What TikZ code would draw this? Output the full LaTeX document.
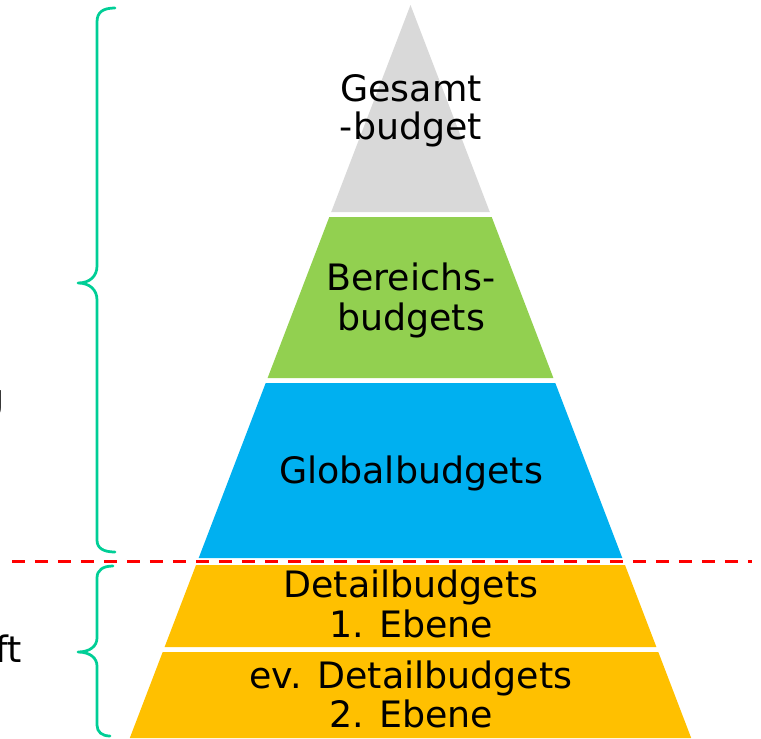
\documentclass[tikz,border=0pt]{standalone}
\usepackage{fontspec}
\setmainfont{DejaVu Sans}
\definecolor{pgray}{HTML}{D9D9D9}
\definecolor{pgreen}{HTML}{92D050}
\definecolor{pblue}{HTML}{00B0F0}
\definecolor{porange}{HTML}{FFC000}
\definecolor{bracegreen}{RGB}{0,206,150}
\begin{document}
\begin{tikzpicture}[x=0.02cm,y=-0.02cm,
  lbl/.style={anchor=base,inner sep=0pt,font=\fontsize{20.7}{22.7}\selectfont,text=black},
  brace/.style={draw=bracegreen,line width=0.055cm,line cap=round,line join=round},
  band/.style={draw=none}]
\useasboundingbox (0,0) rectangle (761,738);
\clip (0,0) rectangle (761,738);
% pyramid bands
\fill[pgray]   (410.5,5) -- (489.8,212) -- (331.2,212) -- cycle;
\fill[pgreen]  (329.3,217) -- (491.7,217) -- (553.4,378) -- (267.6,378) -- cycle;
\fill[pblue]   (265.7,383) -- (555.3,383) -- (622.3,558) -- (198.7,558) -- cycle;
\fill[porange] (196,565) -- (625,565) -- (656.4,647) -- (164.6,647) -- cycle;
\fill[porange] (162.7,652) -- (658.3,652) -- (691.2,738) -- (129.8,738) -- cycle;
% labels
\node[lbl] (g1) at (411,101) {Gesamt};
\node[lbl] (g2) at (411,139) {-budget};
\node[lbl] (b1) at (411,290) {Bereichs-};
\node[lbl] (b2) at (411,330) {budgets};
\node[lbl] (gl) at (411,483) {Globalbudgets};
\node[lbl] (d1) at (411,597) {Detailbudgets};
\node[lbl] (d2) at (411,637) {1. Ebene};
\node[lbl] (e1) at (411,688) {ev. Detailbudgets};
\node[lbl] (e2) at (411,727) {2. Ebene};
% cut-off left texts
\node[lbl,anchor=base east] (lg) at (5,410) {g};
\node[lbl,anchor=base east] (lft) at (22,662) {ft};
% dashed separator
\draw[red,line width=0.06cm,dash pattern=on 0.26cm off 0.2cm] (12,561) -- (752,561);
% braces
\draw[brace] (115,8) .. controls (103,8) and (97,12) .. (97,22) -- (97,266)
  .. controls (97,276) and (90,283) .. (78,283)
  .. controls (90,283) and (97,290) .. (97,300) -- (97,540)
  .. controls (97,548) and (103,552) .. (115,552);
\draw[brace] (113,566) .. controls (103,566) and (97,570) .. (97,578) -- (97,638)
  .. controls (97,646) and (90,652) .. (78,652)
  .. controls (90,652) and (97,658) .. (97,666) -- (97,725)
  .. controls (97,732) and (102,736) .. (110,736);
\end{tikzpicture}
\end{document}
